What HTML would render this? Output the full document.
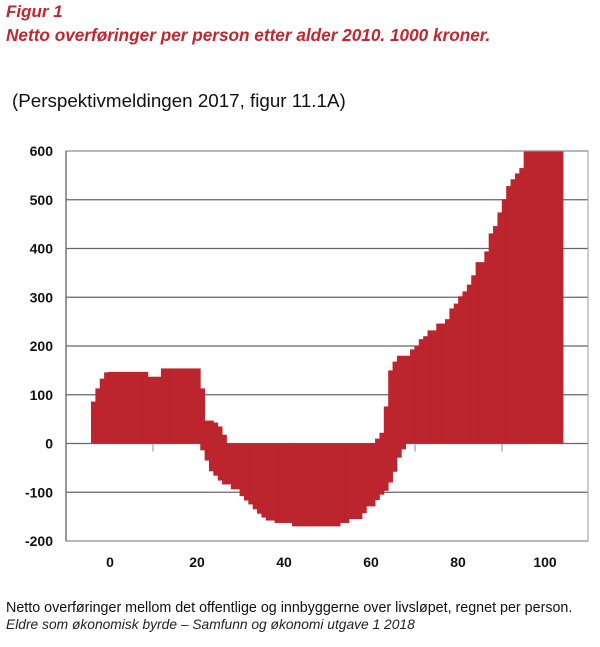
<!DOCTYPE html>
<html><head><meta charset="utf-8"><style>
body{margin:0;background:#fff;width:600px;height:647px;overflow:hidden;font-family:"Liberation Sans",sans-serif}
svg{position:absolute;left:0;top:0}
</style></head><body>
<svg width="600" height="647">
<text x="6" y="17" fill="#c1272d" font-size="17" font-weight="bold" font-style="italic">Figur 1</text>
<text x="6" y="41" fill="#c1272d" font-size="17.2" font-weight="bold" font-style="italic">Netto overføringer per person etter alder 2010. 1000 kroner.</text>
<text x="12" y="107" fill="#111" font-size="18.8">(Perspektivmeldingen 2017, figur 11.1A)</text>
<g id="grid"></g>
<g id="ticks"></g>
<g id="bars"></g>
<g id="axes"></g>
<text x="6" y="612" fill="#111" font-size="14.3">Netto overføringer mellom det offentlige og innbyggerne over livsløpet, regnet per person.</text>
<text x="6" y="629" fill="#222" font-size="13.8" font-style="italic">Eldre som økonomisk byrde – Samfunn og økonomi utgave 1 2018</text>
</svg>
<script>
const yTicks=[600,500,400,300,200,100,0,-100,-200];
const xTickLabels=[0,20,40,60,80,100];
const posValues=[86,113,133,146,147,147,147,147,147,147,147,147,147,137,137,137,154,154,154,154,154,154,154,154,154,113,47,47,43,35,18,0,0,0,0,0,0,0,0,0,0,0,0,0,0,0,0,0,0,0,0,0,0,0,0,0,0,0,0,0,0,0,0,0,0,10,22,76,150,168,180,180,180,193,201,214,220,232,232,246,246,255,277,287,302,312,326,345,372,372,394,431,446,474,501,528,542,554,565,620,620,620,620,620,620,620,620,620];
const negValues=[0,0,0,0,0,0,0,0,0,0,0,0,0,0,0,0,0,0,0,0,0,0,0,0,0,-14,-35,-57,-66,-76,-84,-84,-94,-94,-108,-117,-125,-135,-144,-152,-158,-158,-163,-163,-163,-163,-170,-170,-170,-170,-170,-170,-170,-170,-170,-170,-170,-163,-163,-155,-155,-155,-143,-129,-129,-116,-105,-97,-80,-58,-29,-12,0,0,0,0,0,0,0,0,0,0,0,0,0,0,0,0,0,0,0,0,0,0,0,0,0,0,0,0,0,0,0,0,0,0,0,0];
const NS="http://www.w3.org/2000/svg";
const L=66,R=588,T=151,B=541,VMAX=600,VMIN=-200;
const y=v=>T+(VMAX-Math.min(VMAX,Math.max(VMIN,v)))*(B-T)/(VMAX-VMIN);
const bw=472/posValues.length;
const bx=i=>91+i*bw;
const labX=v=>110+v*4.35;
function mk(tag,attrs,parent){const e=document.createElementNS(NS,tag);for(const k in attrs)e.setAttribute(k,attrs[k]);document.getElementById(parent).appendChild(e);return e;}
yTicks.forEach(t=>{
  const l=mk('line',{x1:L,x2:R,y1:y(t),y2:y(t),stroke:'#666','stroke-width':1.2},'grid');
  
  
  const tx=mk('text',{x:53,y:y(t)+5,'text-anchor':'end','font-size':14,'font-weight':'bold',fill:'#111'},'axes');
  tx.textContent=t;
  
  
});
xTickLabels.forEach(t=>{
  const tx=mk('text',{x:labX(t),y:567,'text-anchor':'middle','font-size':14,'font-weight':'bold',fill:'#111'},'axes');
  tx.textContent=t;
  
  
});
[153,240,327,415,502].forEach(px=>{
  const m=mk('line',{x1:px,x2:px,y1:y(0),y2:y(0)+8,stroke:'#888'},'ticks');
  
  
});
posValues.forEach((v,i)=>{
  if(v>0){const r=mk('rect',{x:bx(i),y:y(v),width:bw+0.4,height:y(0)-y(v),fill:'#bc252d'},'bars');
  
  }
});
negValues.forEach((v,i)=>{
  if(v<0){const r=mk('rect',{x:bx(i),y:y(0),width:bw+0.4,height:y(v)-y(0),fill:'#bc252d'},'bars');
  
  }
});
const fr=mk('rect',{x:L,y:T,width:R-L,height:B-T,fill:'none',stroke:'#999','stroke-width':1},'axes');


const ax=mk('line',{x1:L,x2:L,y1:T,y2:B,stroke:'#777','stroke-width':1.5},'axes');


</script>
</body></html>
